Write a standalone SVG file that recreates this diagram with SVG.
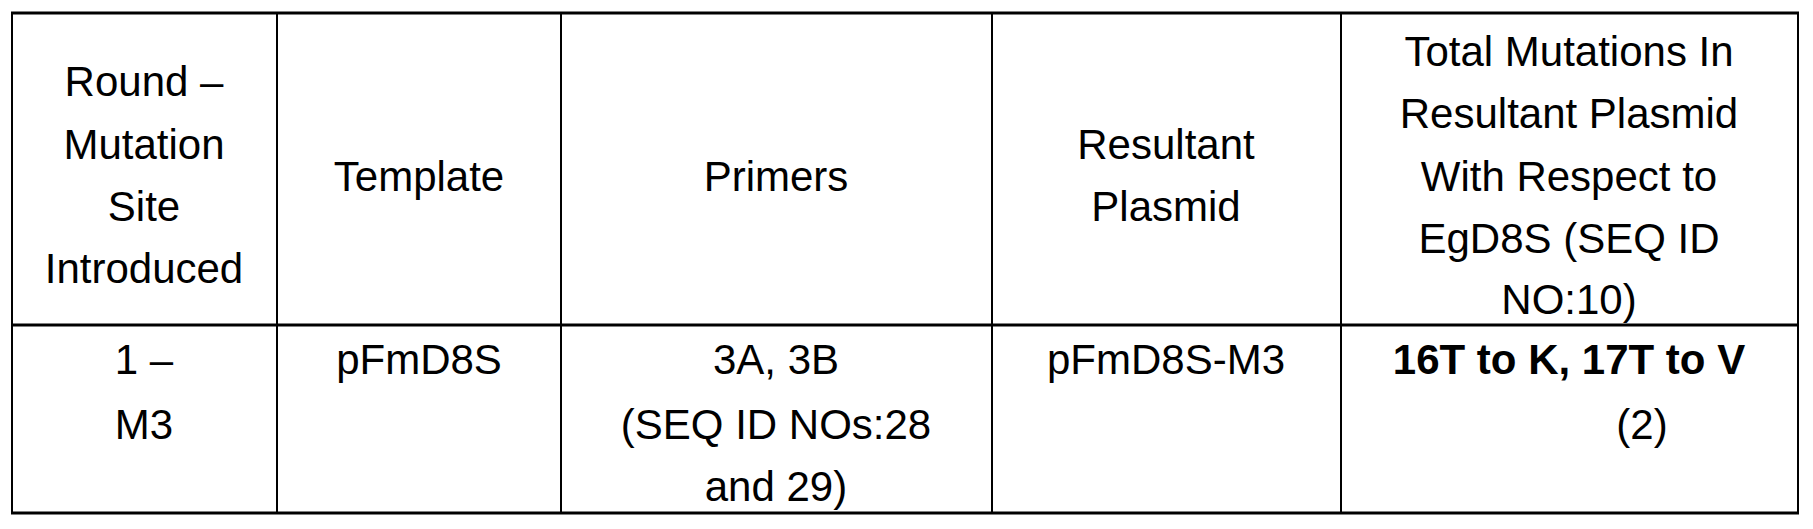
<svg xmlns="http://www.w3.org/2000/svg" width="1813" height="529" viewBox="0 0 1813 529">
<style>
text{font-family:"Liberation Sans",Arial,sans-serif;font-size:42px;fill:#000;text-anchor:middle}
.b{font-weight:bold}
line{stroke:#000;stroke-width:2}
.t{stroke-width:3}
</style>
<rect width="1813" height="529" fill="#fff"/>
<g id="connectors">
<line class="t" x1="11" y1="13" x2="1799" y2="13"/>
<line class="t" x1="11" y1="325" x2="1799" y2="325"/>
<line class="t" x1="11" y1="513" x2="1799" y2="513"/>
<line x1="12" y1="13" x2="12" y2="513"/>
<line x1="277" y1="13" x2="277" y2="513"/>
<line x1="561" y1="13" x2="561" y2="513"/>
<line x1="992" y1="13" x2="992" y2="513"/>
<line x1="1341" y1="13" x2="1341" y2="513"/>
<line x1="1798" y1="13" x2="1798" y2="513"/>
</g>
<g id="h1"><text x="144" y="96">Round –</text><text x="144" y="159">Mutation</text><text x="144" y="221">Site</text><text x="144" y="283">Introduced</text></g>
<g id="h2"><text x="419" y="191">Template</text></g>
<g id="h3"><text x="776" y="191">Primers</text></g>
<g id="h4"><text x="1166" y="159">Resultant</text><text x="1166" y="221">Plasmid</text></g>
<g id="h5"><text x="1569" y="66">Total Mutations In</text><text x="1569" y="128">Resultant Plasmid</text><text x="1569" y="191">With Respect to</text><text x="1569" y="253">EgD8S (SEQ ID</text><text x="1569" y="314">NO:10)</text></g>
<g id="c1"><text x="144" y="374">1 –</text><text x="144" y="439">M3</text></g>
<g id="c2"><text x="419" y="374">pFmD8S</text></g>
<g id="c3"><text x="776" y="374">3A, 3B</text><text x="776" y="439">(SEQ ID NOs:28</text><text x="776" y="501">and 29)</text></g>
<g id="c4"><text x="1166" y="374">pFmD8S-M3</text></g>
<g id="c5"><text class="b" x="1569" y="374">16T to K, 17T to V</text><text x="1642" y="439">(2)</text></g>
</svg>
